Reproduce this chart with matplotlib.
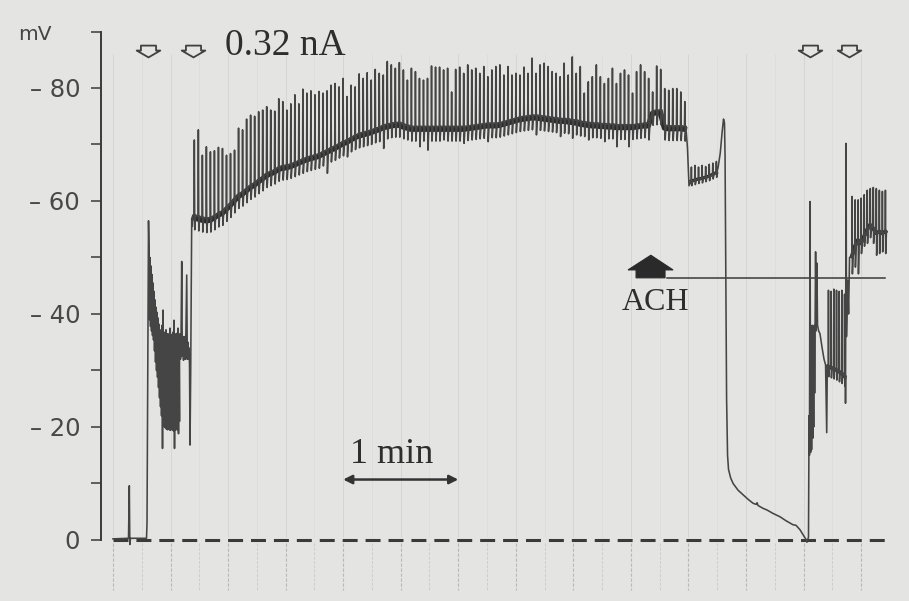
import numpy as np
import matplotlib
matplotlib.use("Agg")
import matplotlib.pyplot as plt
from matplotlib.path import Path
from matplotlib.patches import Polygon

# ---------------- data: time in s, membrane potential in mV ----------------
pre_t = [0.0, 8.08, 8.50, 8.76, 9.12, 17.47, 17.73, 18.51]
pre_v = [-0.2, -0.3, -9.6, 0.8, -0.3, -0.3, -3.0, -56.5]

dense_t0, dense_dt = 18.77, 0.5214
dense_top = [-52, -50, -48.5, -47, -45.5, -44, -42.5, -41.2, -40.3, -39.3,
             -38.2, -37.2, -37, -38, -40.7, -36.6, -36.8, -37.2, -36.4, -36.5,
             -36.2, -37.5, -36.2, -36.4, -36.8, -38.9, -36.5, -36.3, -36.6, -37.5, -36.2]
dense_bot = [-39, -37.8, -37, -36.2, -35.4, -33.5, -31.5, -30, -28.8, -27,
             -25.2, -23.6, -22, -16.2, -20.5, -20, -19.8, -19.6, -19.5, -19.8,
             -19.5, -19.4, -19.6, -19.5, -19.3, -16.2, -19.5, -19.6, -19.4, -18.8, -21]

early_t = [34.67, 34.93, 35.19, 35.46, 35.82, 36.13, 36.50, 36.76, 37.02, 37.28,
           37.54, 37.80, 38.43, 38.74, 39.11, 39.37, 39.63, 39.89, 40.15, 40.51,
           41.03, 41.35, 41.71]
early_v = [-33.5, -36.5, -32, -35.5, -49.3, -32.5, -36, -31.8, -35.5, -32,
           -36, -32, -46.9, -32, -35, -32, -34, -31, -16.8, -30,
           -56.6, -55.5, -57.5]

trainA_t0, trainA_dt = 42.23, 2.096
trainA_base = [-57.5, -57.3, -57.1, -57.0, -57.1, -57.5, -58.0, -58.3, -59.0, -59.7,
               -60.5, -61.3, -61.7, -62.3, -62.9, -63.3, -63.9, -64.4, -65.0, -65.3,
               -65.6, -66.1, -66.3, -66.4, -66.6, -66.9, -67.2, -67.5, -67.8, -68.0,
               -68.2, -68.4, -68.8, -69.1, -69.5, -69.8, -70.2, -70.6, -70.9, -71.3,
               -71.7, -72.0, -72.2, -72.4, -72.6, -72.9, -73.1, -73.5, -73.6, -73.8,
               -73.9, -73.9, -73.6, -73.4, -73.2, -73.2, -73.2, -73.2, -73.2, -73.2,
               -73.2, -73.2,
               -73.2, -73.2, -73.2, -73.2, -73.2, -73.2, -73.3, -73.4, -73.5, -73.6,
               -73.7, -73.8, -73.8, -73.8, -73.9, -74.1, -74.3, -74.5, -74.7, -74.9,
               -75.0, -75.1, -75.2, -75.2, -75.1, -75.0, -74.9, -74.8, -74.7, -74.6,
               -74.6, -74.5, -74.4, -74.3, -74.1, -74.0, -73.9, -73.8, -73.8, -73.7,
               -73.7, -73.6, -73.6, -73.5, -73.5, -73.5, -73.5, -73.5, -73.6, -73.7,
               -73.8, -73.8, -76.0, -76.1, -76.1, -73.4, -73.3, -73.3, -73.3, -73.3,
               -73.2]
trainA_peak = [-70.8, -72.6, -68.1, -69.6, -68.7, -68.9, -69.5, -69.3, -68.1, -68.4,
               -69.0, -72.9, -72.6, -74.5, -75.2, -75.0, -75.8, -76.1, -76.7, -76.1,
               -75.9, -78.1, -77.6, -76.1, -77.2, -78.8, -77.2, -79.8, -79.1, -79.5,
               -78.8, -79.4, -79.1, -79.5, -80.5, -80.8, -80.2, -81.7, -78.5, -80.5,
               -80.2, -82.5, -81.7, -82.7, -81.4, -83.3, -82.6, -82.3, -84.7, -84.1,
               -83.5, -84.5, -83.2, -81.4, -83.5, -82.9, -81.7, -81.4, -81.7, -83.9,
               -83.7, -83.7,
               -83.2, -83.5, -79.3, -83.3, -83.7, -82.6, -84.1, -83.2, -83.5, -82.6,
               -83.8, -82.0, -83.2, -83.8, -84.1, -82.3, -83.8, -82.3, -82.6, -82.3,
               -83.7, -82.6, -85.3, -82.6, -84.1, -84.4, -83.8, -82.9, -82.6, -82.0,
               -84.4, -82.3, -85.5, -82.6, -83.8, -79.1, -81.1, -82.0, -84.1, -82.0,
               -80.8, -81.7, -83.5, -80.8, -82.6, -83.2, -82.3, -79.1, -82.9, -84.1,
               -82.9, -81.7, -79.3, -83.9, -83.3, -79.9, -79.6, -79.9, -79.9, -79.3,
               -77.6]
trainA_dip_idx = [27, 33, 38, 47, 56, 58, 62, 67, 73, 85, 91, 94, 98, 102, 105, 108, 113]
trainA_dip_val = [-64.9, -64.9, -67.8, -69.3, -69.6, -69.0, -70.8, -70.2, -70.5, -71.7,
                  -71.4, -71.1, -70.8, -70.5, -69.6, -69.6, -70.8]

drop_t = [298.7, 299.5, 300.3]
drop_v = [-73.0, -69.4, -62.7]

trainB_t0, trainB_dt = 301.4, 1.86
trainB_base = [-63.5, -63.7, -63.9, -64.0, -64.2, -64.4, -64.7, -65.0]
trainB_peak = [-66.0, -66.3, -66.0, -66.3, -66.1, -66.5, -66.7, -67.0]

late_t = [315.0, 315.5, 316.6, 317.6, 318.3, 318.8, 319.1, 319.5, 319.9, 320.4,
          320.9, 322.0, 323.3, 325.9, 328.5, 331.1, 333.7, 335.3, 335.8, 336.3,
          338.9, 341.0, 344.1, 347.8, 350.9, 354.5, 356.1, 358.2, 359.8, 361.1,
          361.8, 362.6, 362.9, 363.1, 363.4, 363.7, 364.0, 364.2, 364.5, 364.8,
          365.0, 365.3, 365.6, 365.8, 366.3, 366.6, 367.0, 367.3, 367.9, 368.6,
          369.7, 370.7, 371.5, 372.1, 372.4]
late_v = [-65.3, -66.0, -68.5, -72.3, -74.5, -73.8, -68, -45, -25, -15,
          -12.5, -11.0, -10.0, -8.8, -8.0, -7.2, -6.5, -6.3, -6.6, -6.1,
          -5.6, -5.3, -4.7, -4.1, -3.4, -2.7, -2.6, -1.8, -0.9, -0.2,
          0.4, -0.5, -22, -15, -59.9, -15.5, -36, -16, -38, -18,
          -33, -20, -38, -26, -51, -37, -49, -38, -37, -36.5,
          -34, -32, -31, -19, -31]

trainB2_t0, trainB2_dt = 372.9, 1.40
trainB2_base = [-30.7, -30.5, -30.3, -30.1, -29.8, -29.5, -29.0]
trainB2_peak = [-44.2, -44.0, -44.4, -44.2, -44.0, -44.2, -43.5]

kick_t = [381.9, 382.2, 382.4, 383.0, 383.5, 384.0]
kick_v = [-24.2, -70.2, -36, -46, -40, -50]

trainC_t0, trainC_dt = 385.2, 1.58
trainC_base = [-50.2, -52.0, -53.1, -52.5, -53.7, -54.9, -55.8, -55.2, -54.3, -54.6, -54.3, -54.6]
trainC_peak = [-60.8, -60.2, -60.2, -60.5, -61.1, -61.9, -62.2, -62.4, -62.2, -61.9, -61.7, -61.9]
trainC_trough = [-47.1, -48.3, -47.1, -50.7, -52.0, -52.5, -53.5, -52.5, -50.4, -50.7, -51.0, -50.7]

end_t = [403.6]
end_v = [-54.6]

current_marks_t = [18.5, 41.5, 363.4, 383.8]   # open arrows (current on/off)
current_label = "0.32 nA"
ach_t, ach_level, ach_line_end = 280.4, -46.4, 402.5
yticks = [0, -10, -20, -30, -40, -50, -60, -70, -80, -90]
ytick_labels = ["0", "", "\u2013 20", "", "\u2013 40", "", "\u2013 60", "", "\u2013 80", ""]
grid_major_t = [0, 30, 60, 90, 120, 150, 180, 210, 240, 270, 300, 330, 360, 390]
grid_minor_t = [15, 45, 75, 105, 135, 165, 195, 225, 255, 285, 315, 345, 375]
scalebar_t = [120, 180]
scalebar_label = "1 min"

# ---------------- build trace ----------------
def spike_train(t0, dt, base, peak, trough):
    t, v = [], []
    for i, (b, p, d) in enumerate(zip(base, peak, trough)):
        ti = t0 + i * dt
        t += [ti, ti + 0.08 * dt, ti + 0.18 * dt, ti + 0.42 * dt]
        v += [b, p, d, b]
    return t, v

tA = [trainA_t0 + i * trainA_dt for i in range(len(trainA_base))]
troughA = [b + 2.6 for b in trainA_base]
for i, val in zip(trainA_dip_idx, trainA_dip_val):
    troughA[i] = val

dense_tt, dense_vv = [], []
for k, (tp, bt) in enumerate(zip(dense_top, dense_bot)):
    dense_tt += [dense_t0 + k * dense_dt, dense_t0 + (k + 0.5) * dense_dt]
    dense_vv += [tp, bt]

sA_t, sA_v = spike_train(trainA_t0, trainA_dt, trainA_base, trainA_peak, troughA)
sB_t, sB_v = spike_train(trainB_t0, trainB_dt, trainB_base, trainB_peak,
                         [b + 0.8 for b in trainB_base])
sB2_t, sB2_v = spike_train(trainB2_t0, trainB2_dt, trainB2_base, trainB2_peak,
                           [b + 1.8 for b in trainB2_base])
sC_t, sC_v = spike_train(trainC_t0, trainC_dt, trainC_base, trainC_peak, trainC_trough)

trace_t = (pre_t + dense_tt + early_t + sA_t + drop_t + sB_t + late_t + sB2_t
           + kick_t + sC_t + end_t)
trace_v = (pre_v + dense_vv + early_v + sA_v + drop_v + sB_v + late_v + sB2_v
           + kick_v + sC_v + end_v)

# ---------------- figure ----------------
bg = "#e4e4e2"
ink = "#2e2e2e"
fig = plt.figure(figsize=(9.09, 6.01), dpi=100)
fig.patch.set_facecolor(bg)
ax = fig.add_axes([101 / 909, 0, 808 / 909, (601 - 31.5) / 601])
ax.set_facecolor(bg)
ax.set_xlim(-6.26, 415.0)
ax.set_ylim(10.8, -90.0)

# faint chart-paper grid
ax.vlines(grid_major_t, 0.6, 8.8, colors="#b9b9b9", lw=0.8, linestyles=(0, (3, 1.5)), zorder=0)
ax.vlines(grid_minor_t, 0.6, 8.8, colors="#cdcdcd", lw=0.7, linestyles=(0, (3, 1.5)), zorder=0)
ax.vlines(grid_major_t, -86, -0.6, colors="#d5d5d5", lw=0.7, zorder=0)
ax.vlines(grid_minor_t, -86, -0.6, colors="#dcdcdc", lw=0.6, zorder=0)

# zero line
ax.plot([0, 405.1], [0, 0], color="#3a3a3a", lw=2.2, dashes=(4.9, 2.6), zorder=1)

# band (thick) and trace
ax.plot(tA, [b + 0.5 for b in trainA_base], color="#2a2a2a", lw=3.8,
        solid_joinstyle="round", zorder=2)
ax.plot([trainB_t0 + i * trainB_dt for i in range(len(trainB_base))], trainB_base,
        color="#2a2a2a", lw=2.4, zorder=2)
ax.plot([trainB2_t0 + i * trainB2_dt for i in range(len(trainB2_base))], trainB2_base,
        color="#2a2a2a", lw=2.8, zorder=2)
ax.plot([trainC_t0 + i * trainC_dt for i in range(len(trainC_base))], trainC_base,
        color="#2a2a2a", lw=2.8, zorder=2)
ax.plot(trace_t, trace_v, color="#454545", lw=1.15, zorder=3)

# ACh application line and arrow
ax.plot([ach_t + 8.5, ach_line_end], [ach_level, ach_level], color="#3a3a3a", lw=1.1, zorder=2)
ach_poly = Polygon([(ach_t - 11.9, ach_level - 1.4), (ach_t, ach_level - 4.0),
                    (ach_t + 11.6, ach_level - 1.4), (ach_t + 7.4, ach_level - 1.4),
                    (ach_t + 7.4, ach_level), (ach_t - 7.7, ach_level),
                    (ach_t - 7.7, ach_level - 1.4)], closed=True,
                   facecolor="#2a2a2a", edgecolor="#2a2a2a", lw=0.8, zorder=4)
ax.add_patch(ach_poly)
ax.text(ach_t + 2.7, ach_level + 5.7, "ACH", ha="center", va="baseline",
        fontsize=23, family="Liberation Serif", color=ink)

# current markers (open arrows)
verts = [(-0.32, 0.25), (0.32, 0.25), (0.32, 0.04), (0.5, 0.04), (0.0, -0.25),
         (-0.5, 0.04), (-0.32, 0.04), (-0.32, 0.25)]
codes = [Path.MOVETO] + [Path.LINETO] * 6 + [Path.CLOSEPOLY]
arrow_marker = Path(verts, codes)
ax.plot(current_marks_t, [-86.5] * len(current_marks_t), linestyle="none",
        marker=arrow_marker, markersize=17, markerfacecolor="none",
        markeredgecolor="#404040", markeredgewidth=1.3, zorder=4, clip_on=False)
ax.text(58.4, -85.8, current_label, ha="left", va="baseline", fontsize=27,
        family="Liberation Serif", color=ink, clip_on=False)

# time scale bar
ax.annotate("", xy=(scalebar_t[1], -10.7), xytext=(scalebar_t[0], -10.7),
            arrowprops=dict(arrowstyle="<|-|>", lw=1.8, color="#333333",
                            mutation_scale=13, shrinkA=0, shrinkB=0))
ax.text((scalebar_t[0] + scalebar_t[1]) / 2 - 4.5, -13.6, scalebar_label, ha="center",
        va="baseline", fontsize=26, family="Liberation Serif", color=ink)

# axes styling
for side in ["top", "right", "bottom"]:
    ax.spines[side].set_visible(False)
ax.spines["left"].set_bounds(-90, 0)
ax.spines["left"].set_linewidth(1.4)
ax.spines["left"].set_color("#3a3a3a")
ax.set_xticks([])
ax.set_yticks(yticks)
ax.set_yticklabels(ytick_labels)
ax.tick_params(axis="y", direction="out", length=7, width=1.1, pad=8,
               labelsize=17.5, colors="#3a3a3a", labelcolor="#484848")
fig.text(18 / 909, 1 - 40 / 601, "mV", ha="left", va="baseline", fontsize=14.5,
         color="#444444")

fig.savefig("out.png", dpi=100, facecolor=bg)
